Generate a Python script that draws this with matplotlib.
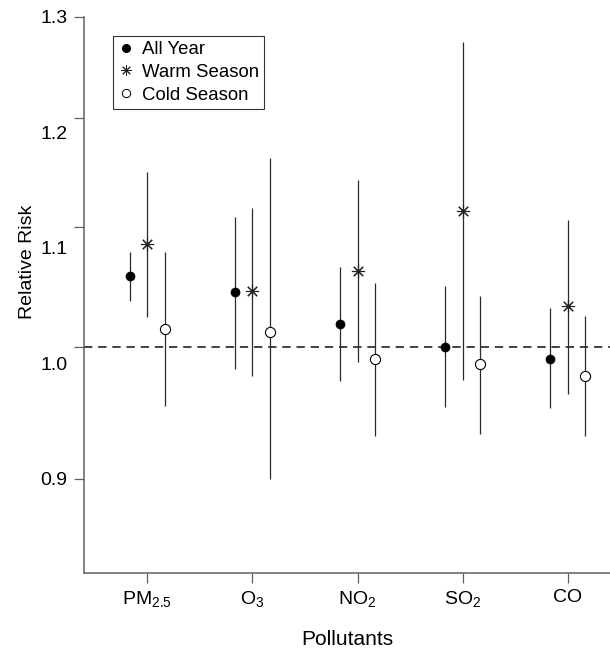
import numpy as np
import matplotlib
matplotlib.use("Agg")
import matplotlib.pyplot as plt
from matplotlib.lines import Line2D
from matplotlib.ticker import NullFormatter, NullLocator

plt.rcParams['font.family'] = ['Liberation Sans', 'DejaVu Sans']
plt.rcParams['mathtext.fontset'] = 'custom'
plt.rcParams['mathtext.rm'] = 'Liberation Sans'
plt.rcParams['mathtext.it'] = 'Liberation Sans'
plt.rcParams['mathtext.default'] = 'regular'

# pollutants and relative risk estimates (point, lower, upper)
pollutants = ['PM$_{2.5}$', 'O$_3$', 'NO$_2$', 'SO$_2$', 'CO']

all_year = [1.058, 1.044, 1.018, 1.000, 0.990]
all_year_lo = [1.037, 0.982, 0.973, 0.953, 0.952]
all_year_hi = [1.078, 1.109, 1.065, 1.049, 1.031]

warm = [1.085, 1.045, 1.062, 1.114, 1.033]
warm_lo = [1.024, 0.977, 0.988, 0.974, 0.963]
warm_hi = [1.149, 1.117, 1.142, 1.274, 1.106]

cold = [1.014, 1.012, 0.990, 0.986, 0.977]
cold_lo = [0.954, 0.900, 0.931, 0.933, 0.931]
cold_hi = [1.078, 1.162, 1.052, 1.041, 1.025]

y_ticks = [0.9, 1.0, 1.1, 1.2, 1.3]
y_lo, y_hi = 0.835, 1.3

fig = plt.figure(figsize=(6.10, 6.51), dpi=100)
ax = fig.add_axes([84/610, 78/651, 526/610, 556/651])

x = np.arange(1, len(pollutants) + 1)
off = 1/6
bar_col = '#2a2a2a'

def draw(xpos, est, lo, hi, **mk):
    est = np.array(est)
    yerr = [est - np.array(lo), np.array(hi) - est]
    ax.errorbar(xpos, est, yerr=yerr, fmt='none', ecolor=bar_col,
                elinewidth=0.9, capsize=0, zorder=2)
    ax.plot(xpos, est, ls='none', zorder=3, **mk)

mk_all = dict(marker='o', ms=6.5, mfc='black', mec='black', mew=0.5)
mk_warm = dict(marker=(8, 2, 0), ms=9.5, mfc='none', mec='#222222', mew=0.8)
mk_cold = dict(marker='o', ms=7.3, mfc='white', mec='black', mew=0.8)

draw(x - off, all_year, all_year_lo, all_year_hi, **mk_all)
draw(x, warm, warm_lo, warm_hi, **mk_warm)
draw(x + off, cold, cold_lo, cold_hi, **mk_cold)

ax.axhline(1.0, color='#222222', lw=1.2, ls=(0, (5, 3.5)), zorder=1)

ax.set_yscale('log')
ax.set_ylim(y_lo, y_hi)
ax.set_xlim(0.4, 5.4)
ax.set_yticks(y_ticks)
ax.yaxis.set_major_formatter(NullFormatter())
ax.yaxis.set_minor_locator(NullLocator())
ax.set_xticks(x)
ax.set_xticklabels(pollutants, fontsize=14)

for s in ['top', 'right']:
    ax.spines[s].set_visible(False)
for s in ['left', 'bottom']:
    ax.spines[s].set_color('#606060')
    ax.spines[s].set_linewidth(1.1)
ax.tick_params(axis='both', direction='out', length=7.2, width=0.9,
               color='#606060')
ax.tick_params(axis='x', pad=4)

# tick labels sit evenly spaced between lowest and highest tick
ax2 = ax.twinx()
l0, l1 = np.log(y_ticks[0]), np.log(y_ticks[-1])
span = y_ticks[-1] - y_ticks[0]
lin_lo = y_ticks[0] - (l0 - np.log(y_lo)) / (l1 - l0) * span
lin_hi = y_ticks[-1] + (np.log(y_hi) - l1) / (l1 - l0) * span
ax2.set_ylim(lin_lo, lin_hi)
ax2.set_yticks(y_ticks)
ax2.set_yticklabels([f'{v:.1f}' for v in y_ticks], fontsize=14)
ax2.yaxis.tick_left()
ax2.tick_params(axis='y', length=0, pad=12)
for s in ax2.spines.values():
    s.set_visible(False)

ax.set_xlabel('Pollutants', fontsize=15)
ax.xaxis.set_label_coords(0.5, -0.102)
ax.set_ylabel('Relative Risk', fontsize=14)
ax.yaxis.set_label_coords(-0.092, 0.559)

handles = [
    Line2D([], [], ls='none', marker='o', ms=5.5, mfc='black', mec='black'),
    Line2D([], [], ls='none', marker=(8, 2, 0), ms=7.5, mfc='none', mec='#222222', mew=0.7),
    Line2D([], [], ls='none', marker='o', ms=6, mfc='white', mec='black', mew=0.7),
]
leg = ax.legend(handles, ['All Year', 'Warm Season', 'Cold Season'],
                loc='upper left', bbox_to_anchor=(0.0546, 0.9664),
                borderaxespad=0, fontsize=13.4, frameon=True, fancybox=False,
                framealpha=1, edgecolor='#333333', handlelength=0.8,
                handletextpad=0.45, labelspacing=0.3, borderpad=0.3)
leg.get_frame().set_linewidth(0.8)

fig.savefig('out.png', dpi=100)
